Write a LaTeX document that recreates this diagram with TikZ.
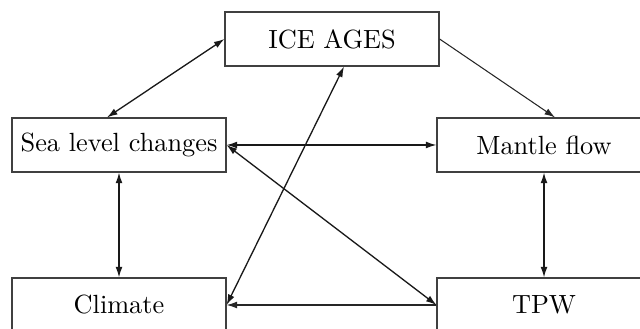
\documentclass[tikz,border=0pt]{standalone}
\usetikzlibrary{arrows.meta,calc}
\begin{document}
\begin{tikzpicture}[x={(0.38pt,0)},y={(0,-0.38pt)},
  box/.style={draw=black!75,line width=0.45pt,minimum width=81.3pt,minimum height=20.5pt,inner sep=0pt,font=\fontsize{10}{12}\selectfont},
  link/.style={line width=0.5pt,draw=black!90,arrows={Latex[length=4pt,width=2.6pt]-Latex[length=4pt,width=2.6pt]}},
  onelink/.style={line width=0.4pt,draw=black!85,-{Latex[length=4pt,width=2.6pt]}}]
\useasboundingbox (0,0) rectangle (640,329);
\clip (0,0) rectangle (640,329);
\node[box] (ice) at (332,39) {ICE AGES};
\node[box] (sea) at (119,145) {Sea level changes};
\node[box] (mantle) at (544,145) {Mantle flow};
\node[box] (climate) at (119,305) {Climate};
\node[box] (tpw) at (544,305) {TPW};
\draw[link] (ice.west) -- ($(sea.north)+(-12,0)$);
\draw[onelink] (ice.east) -- ($(mantle.north)+(11,0)$);
\draw[link] (sea.east) -- (mantle.west);
\draw[link] (sea.south) -- (climate.north);
\draw[link] (mantle.south) -- (tpw.north);
\draw[onelink] (tpw.west) -- (climate.east);
\draw[link] (sea.east) -- (tpw.west);
\draw[link] (climate.east) -- ($(ice.south)+(12,0)$);
\end{tikzpicture}
\end{document}
